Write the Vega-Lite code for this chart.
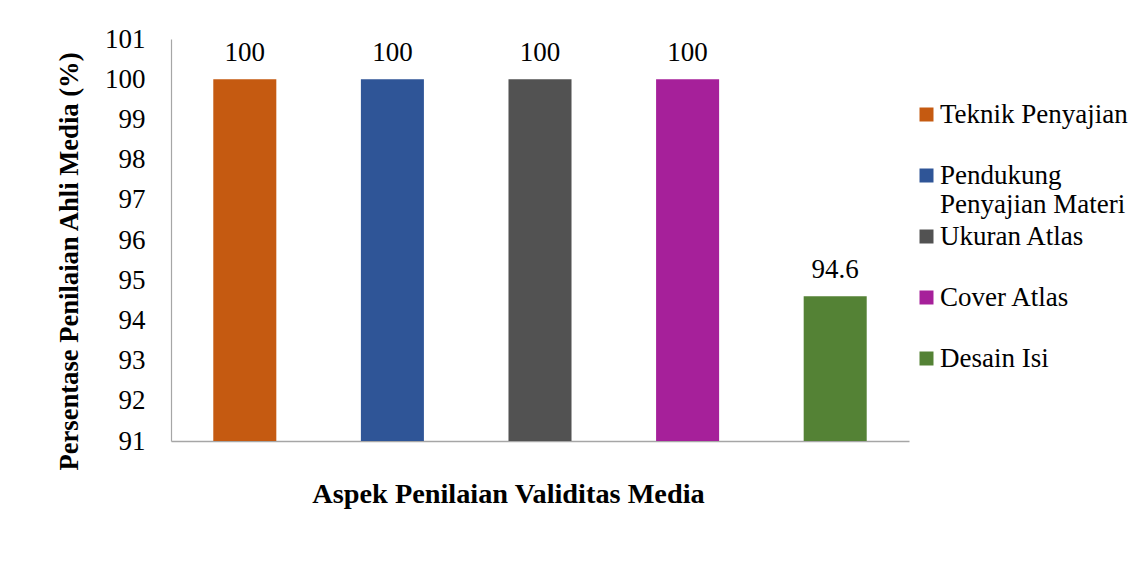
{
  "$schema": "https://vega.github.io/schema/vega-lite/v6.json",
  "autosize": {"type": "none"},
  "width": 738,
  "height": 402,
  "padding": {"left": 171, "top": 39, "right": 226, "bottom": 132},
  "background": "white",
  "config": {
    "view": {"stroke": null},
    "font": "Liberation Serif"
  },
  "data": {
    "values": [
      {"aspek": "Teknik Penyajian", "nilai": 100, "label": "100"},
      {"aspek": "Pendukung Penyajian Materi", "nilai": 100, "label": "100"},
      {"aspek": "Ukuran Atlas", "nilai": 100, "label": "100"},
      {"aspek": "Cover Atlas", "nilai": 100, "label": "100"},
      {"aspek": "Desain Isi", "nilai": 94.6, "label": "94.6"}
    ]
  },
  "encoding": {
    "x": {
      "field": "aspek",
      "type": "nominal",
      "sort": null,
      "scale": {"paddingInner": 0.573, "paddingOuter": 0.2865},
      "axis": {
        "title": "Aspek Penilaian Validitas Media",
        "titleFont": "Liberation Serif",
        "titleFontSize": 28.3,
        "titleFontWeight": "bold",
        "titleColor": "black",
        "titlePadding": 39,
        "titleX": 337,
        "labels": false,
        "ticks": false,
        "domainColor": "#a6a6a6",
        "domainWidth": 1.5
      }
    },
    "y": {
      "field": "nilai",
      "type": "quantitative",
      "scale": {"domain": [91, 101], "zero": false, "nice": false},
      "axis": {
        "title": "Persentase Penilaian Ahli Media (%)",
        "titleFont": "Liberation Serif",
        "titleFontSize": 26.6,
        "titleFontWeight": "bold",
        "titleColor": "black",
        "titlePadding": 21,
        "titleY": 222,
        "values": [91, 92, 93, 94, 95, 96, 97, 98, 99, 100, 101],
        "labelFont": "Liberation Serif",
        "labelFontSize": 27,
        "labelColor": "black",
        "labelPadding": 26,
        "ticks": false,
        "grid": false,
        "domainColor": "#a6a6a6",
        "domainWidth": 1.2
      }
    }
  },
  "layer": [
    {
      "mark": {"type": "bar"},
      "encoding": {
        "y2": {"datum": 91},
        "color": {
          "field": "aspek",
          "type": "nominal",
          "sort": null,
          "scale": {
            "domain": ["Teknik Penyajian", "Pendukung Penyajian Materi", "Ukuran Atlas", "Cover Atlas", "Desain Isi"],
            "range": ["#C55A11", "#2F5597", "#525252", "#A6209A", "#548235"]
          },
          "legend": {
            "title": null,
            "orient": "none",
            "legendX": 742,
            "legendY": 62,
            "symbolType": "square",
            "symbolSize": 196,
            "symbolStrokeWidth": 0,
            "labelFont": "Liberation Serif",
            "labelFontSize": 27,
            "labelColor": "black",
            "labelOffset": 0,
            "labelLimit": 300,
            "rowPadding": 4,
            "labelExpr": "datum.label == 'Pendukung Penyajian Materi' ? ['Pendukung', 'Penyajian Materi'] : [datum.label, '']"
          }
        }
      }
    },
    {
      "mark": {"type": "text", "baseline": "bottom", "dy": -12, "font": "Liberation Serif", "fontSize": 27, "color": "black"},
      "encoding": {"text": {"field": "label"}}
    }
  ]
}
